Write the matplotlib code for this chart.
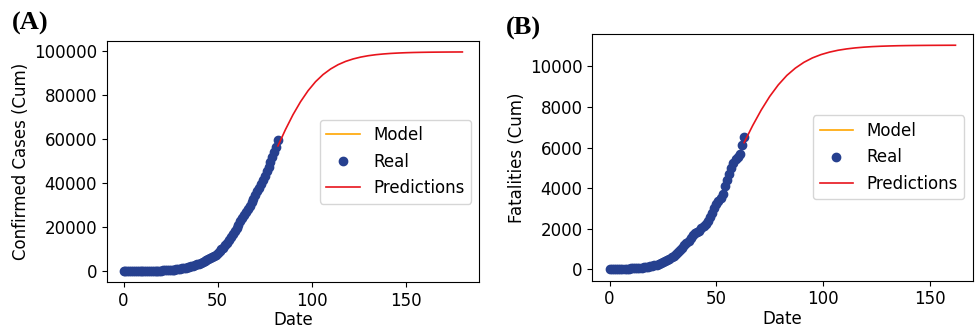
import matplotlib
matplotlib.use("Agg")
import matplotlib.pyplot as plt
import numpy as np

# ---- Panel A: confirmed cases ----
cases_real = [0, 0, 0, 0, 0, 10, 20, 30, 40, 55, 70,
              85, 100, 120, 140, 165, 190, 220, 250, 290, 330,
              380, 430, 490, 560, 640, 730, 830, 940, 1060, 1200,
              1350, 1520, 1700, 1900, 2120, 2360, 2620, 2900, 3200, 3520,
              3870, 4240, 4640, 5060, 5500, 5970, 6460, 6980, 7530, 8200,
              9000, 9900, 10800, 11900, 13000, 14200, 15500, 17000, 18400, 19800,
              21200, 22600, 24000, 25400, 26800, 28300, 29800, 31300, 32900, 34500,
              36200, 37900, 39700, 41500, 43400, 45400, 47400, 49500, 51700, 54000,
              56600, 59700]
cases_pred_days = [82, 86, 90, 94, 98, 102, 106, 110, 114, 118, 122, 126, 130, 134,
                   138, 142, 146, 150, 154, 158, 162, 166, 170, 174, 178, 180]
cases_pred = [56860, 64270, 71020, 76890, 81890, 86000, 89240, 91760, 93720, 95200,
              96310, 97150, 97770, 98230, 98560, 98810, 98990, 99130, 99230, 99300,
              99355, 99390, 99420, 99443, 99460, 99465]

# ---- Panel B: fatalities ----
fat_real = [0, 5, 10, 15, 20, 25, 30, 35, 40, 45, 50,
            58, 66, 75, 85, 97, 110, 125, 142, 162, 185,
            212, 245, 280, 320, 365, 415, 470, 530, 595, 660,
            760, 860, 960, 1080, 1200, 1300, 1400, 1530, 1680, 1790,
            1850, 1900, 2020, 2120, 2220, 2400, 2600, 2800, 3050, 3250,
            3380, 3500, 3700, 4100, 4400, 4700, 5000, 5250, 5420, 5550,
            5700, 6120, 6550]
fat_pred_days = [63, 67, 71, 75, 79, 83, 87, 91, 95, 99, 103, 107, 111, 115, 119,
                 123, 127, 131, 135, 139, 143, 147, 151, 155, 159, 162]
fat_pred = [6250, 7088, 7853, 8526, 9094, 9559, 9920, 10205, 10423, 10586, 10708,
            10800, 10866, 10916, 10952, 10979, 10998, 11012, 11023, 11030, 11035,
            11039, 11042, 11044, 11046, 11047]

ylabels = ["Confirmed Cases (Cum)", "Fatalities (Cum)"]
panel_tags = ["(A)", "(B)"]

REAL_C = "#26408f"
MODEL_C = "orange"
PRED_C = "#e8141c"

fig = plt.figure(figsize=(9.75, 3.32), dpi=100)
axA = fig.add_axes([0.1094, 0.1497, 0.3822, 0.7268])
axB = fig.add_axes([0.6075, 0.1545, 0.3902, 0.7430])

panels = [
    (axA, cases_real, cases_pred_days, cases_pred),
    (axB, fat_real, fat_pred_days, fat_pred),
]

for i, (ax, real, pdays, pred) in enumerate(panels):
    days = np.arange(len(real))
    ax.plot(days, real, color=MODEL_C, lw=1.2, label="Model", zorder=1)
    ax.plot(days, real, "o", color=REAL_C, markersize=6, label="Real", zorder=2)
    ax.plot(pdays, pred, color=PRED_C, lw=1.2, label="Predictions", zorder=3)
    ax.set_xlabel("Date", fontsize=12, labelpad=1)
    ax.set_ylabel(ylabels[i], fontsize=12, labelpad=3)
    ax.tick_params(labelsize=12)
    ax.set_xticks([0, 50, 100, 150])
    ax.legend(loc="center right", fontsize=12, handlelength=2.0)

fig.text(0.012, 0.91, panel_tags[0], fontsize=19, fontweight="bold", family="Liberation Serif")
fig.text(0.519, 0.895, panel_tags[1], fontsize=19, fontweight="bold", family="Liberation Serif")

fig.savefig("out.png", dpi=100)
